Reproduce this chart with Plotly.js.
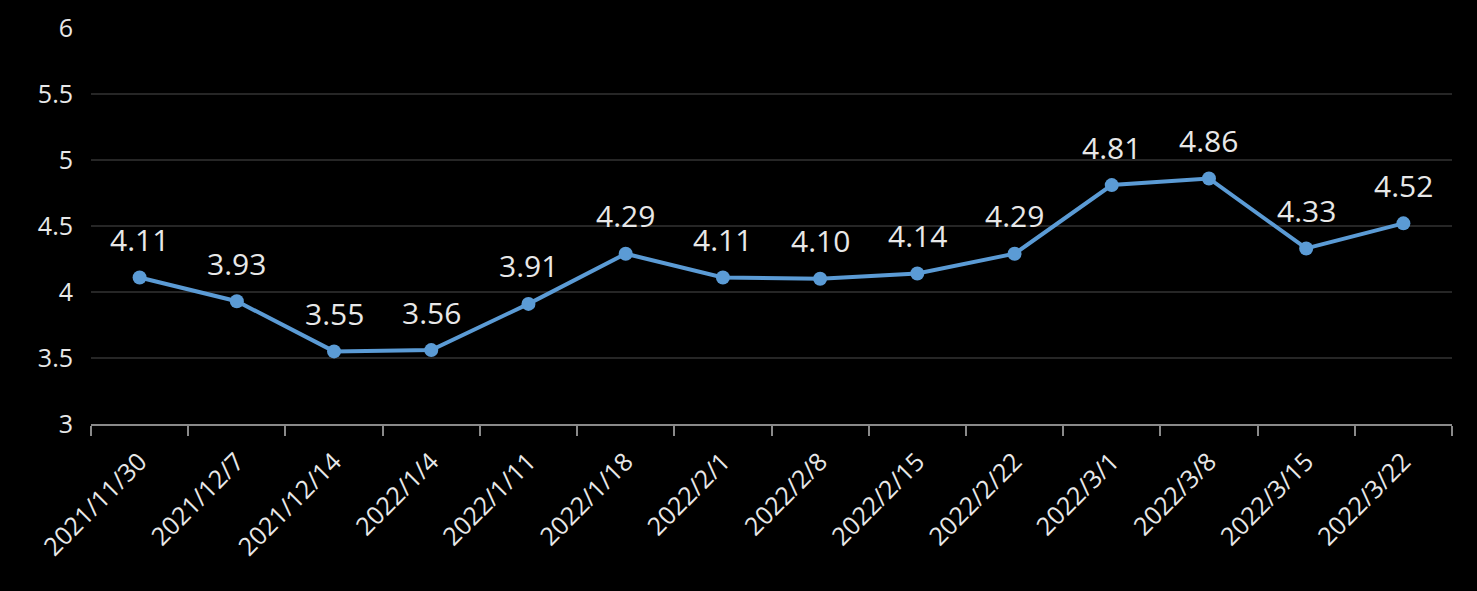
<!DOCTYPE html>
<html>
<head>
<meta charset="utf-8">
<script src="https://cdn.plot.ly/plotly-3.0.1.min.js"></script>
<style>html,body{margin:0;padding:0;background:#000;}#chart{width:1477px;height:591px;}</style>
</head>
<body>
<div id="chart"></div>
<script>
const categories = ["2021/11/30","2021/12/7","2021/12/14","2022/1/4","2022/1/11","2022/1/18","2022/2/1","2022/2/8","2022/2/15","2022/2/22","2022/3/1","2022/3/8","2022/3/15","2022/3/22"];
const values = [4.11,3.93,3.55,3.56,3.91,4.29,4.11,4.10,4.14,4.29,4.81,4.86,4.33,4.52];
const labels = values.map(v => v.toFixed(2));
const yTicks = [3,3.5,4,4.5,5,5.5,6];

const trace = {
  x: categories, y: values, type: 'scatter', mode: 'lines+markers',
  line: {color: '#5b9bd5', width: 4},
  marker: {color: '#5b9bd5', size: 14},
  hoverinfo: 'skip'
};
const annotations = categories.map((c,i) => ({
  x: c, y: values[i], xref: 'x', yref: 'y', text: labels[i], showarrow: false,
  yshift: 38, font: {family: 'Open Sans, Noto Sans, sans-serif', size: 30, color: '#e8e8e8'}
}));
const layout = {
  width: 1477, height: 591,
  paper_bgcolor: '#000', plot_bgcolor: '#000',
  margin: {l: 91, r: 25, t: 28, b: 167},
  showlegend: false,
  annotations: annotations,
  xaxis: {
    type: 'category', tickmode: 'array', tickvals: categories, ticktext: categories,
    tickangle: -45, tickson: 'boundaries', ticks: 'outside', ticklen: 10, tickwidth: 2, tickcolor: '#8a8a8a',
    showline: true, linecolor: '#8a8a8a', linewidth: 2, showgrid: false, zeroline: false,
    range: [-0.5, 13.5], ticklabelstandoff: 11,
    tickfont: {family: 'Open Sans, Noto Sans, sans-serif', size: 25, color: '#e8e8e8'}
  },
  yaxis: {
    range: [3, 6], tickvals: yTicks, ticktext: yTicks.map(String),
    showgrid: true, gridcolor: '#262626', gridwidth: 2, zeroline: false, showline: false,
    ticks: '', ticklabelstandoff: 17,
    tickfont: {family: 'Open Sans, Noto Sans, sans-serif', size: 25, color: '#e8e8e8'}
  }
};
Plotly.newPlot('chart', [trace], layout, {displayModeBar: false, staticPlot: true});
</script>
</body>
</html>
